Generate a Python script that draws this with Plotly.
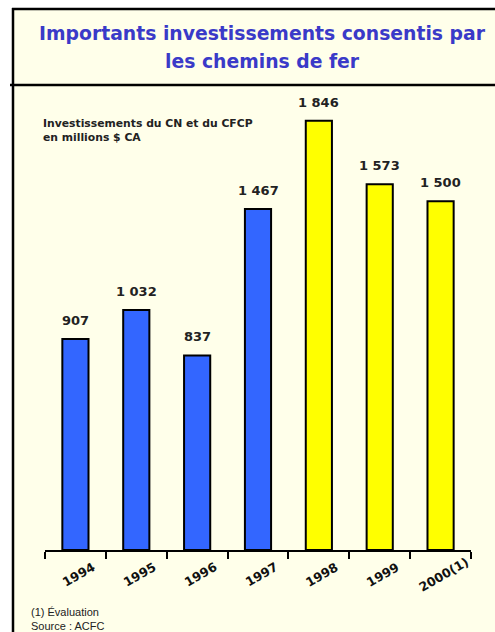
import plotly.graph_objects as go

years = ["1994", "1995", "1996", "1997", "1998", "1999", "2000(1)"]
values = [907, 1032, 837, 1467, 1846, 1573, 1500]
value_labels = ["907", "1 032", "837", "1 467", "1 846", "1 573", "1 500"]
colors = ["#3366FF"] * 4 + ["#FFFF00"] * 3

W, H = 495, 632
L, R, T, B = 45, 24, 100, 82
PW, PH = W - L - R, H - T - B
YMAX = PH / 0.2325

def px(x):
    return (x - L) / PW

def py(y):
    return (H - B - y) / PH

cream = "#FFFFEA"

fig = go.Figure()
fig.add_trace(go.Bar(
    x=list(range(len(years))), y=values,
    marker=dict(color=colors, line=dict(color="black", width=2)),
    width=0.43, hoverinfo="skip",
))

annotations = []
for i, (yr, v, lab) in enumerate(zip(years, values, value_labels)):
    annotations.append(dict(
        x=i, y=v, xref="x", yref="y", text=lab, showarrow=False,
        yanchor="bottom", yshift=9,
        font=dict(family="DejaVu Sans", size=13, color="#222222", weight="bold"),
    ))
    annotations.append(dict(
        x=i, y=py(574), xref="x", yref="paper", text=yr, showarrow=False,
        xanchor="center", yanchor="middle", textangle=-30, xshift=3,
        font=dict(family="DejaVu Sans", size=12.5, color="#111111", weight="bold"),
    ))

annotations += [
    dict(x=px(262), y=py(33), xref="paper", yref="paper",
         text="Importants investissements consentis par", showarrow=False,
         xanchor="center", yanchor="middle",
         font=dict(family="DejaVu Sans", size=18.8, color="#3A3AC8", weight="bold")),
    dict(x=px(262), y=py(61), xref="paper", yref="paper",
         text="les chemins de fer", showarrow=False,
         xanchor="center", yanchor="middle",
         font=dict(family="DejaVu Sans", size=18.8, color="#3A3AC8", weight="bold")),
    dict(x=px(41), y=py(115), xref="paper", yref="paper",
         text="Investissements du CN et du CFCP<br>en millions $ CA", showarrow=False,
         xanchor="left", yanchor="top", align="left",
         font=dict(family="DejaVu Sans", size=10.8, color="#222222", weight="bold")),
    dict(x=px(29), y=py(604), xref="paper", yref="paper",
         text="(1) Évaluation<br>Source : ACFC", showarrow=False,
         xanchor="left", yanchor="top", align="left",
         font=dict(family="Liberation Sans", size=11, color="#222222")),
]

shapes = [
    dict(type="rect", xref="paper", yref="paper", x0=px(13), x1=px(W + 5),
         y0=py(9), y1=py(H + 5), fillcolor=cream, line=dict(width=0), layer="below"),
    dict(type="line", xref="paper", yref="paper", x0=px(13), x1=px(13),
         y0=py(8), y1=py(H + 5), line=dict(color="black", width=2.5)),
    dict(type="line", xref="paper", yref="paper", x0=px(12), x1=px(W + 5),
         y0=py(9), y1=py(9), line=dict(color="black", width=2.5)),
    dict(type="line", xref="paper", yref="paper", x0=px(10), x1=px(W + 5),
         y0=py(85), y1=py(85), line=dict(color="black", width=2.5)),
]

fig.update_layout(
    width=W, height=H,
    margin=dict(l=L, r=R, t=T, b=B, pad=0),
    paper_bgcolor="white", plot_bgcolor="rgba(0,0,0,0)",
    showlegend=False,
    annotations=annotations, shapes=shapes,
    xaxis=dict(range=[-0.5, 6.5], tickmode="array",
               tickvals=[i - 0.5 for i in range(len(years) + 1)], ticktext=[""] * (len(years) + 1),
               ticks="outside", ticklen=7, tickwidth=2, tickcolor="black",
               showline=True, linewidth=2, linecolor="black",
               showticklabels=False, showgrid=False, zeroline=False, fixedrange=True),
    yaxis=dict(range=[0, YMAX], visible=False, showgrid=False, zeroline=False,
               fixedrange=True),
)

fig.write_html("out.html")
